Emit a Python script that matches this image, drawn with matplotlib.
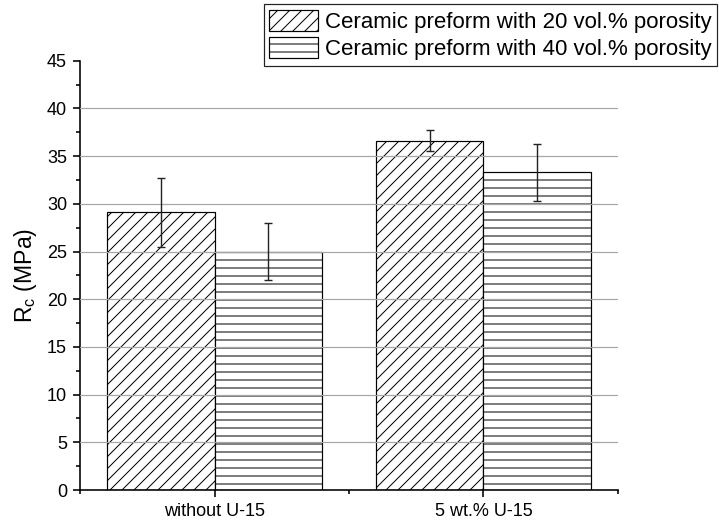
"""Compressive strength of the two ceramic preforms, with and without U-15."""
import matplotlib

matplotlib.use("Agg")
import matplotlib.pyplot as plt
import numpy as np

categories = ["without U-15", "5 wt.% U-15"]
series_labels = [
    "Ceramic preform with 20 vol.% porosity",
    "Ceramic preform with 40 vol.% porosity",
]
rc_20 = [29.1, 36.6]
rc_20_err = [3.6, 1.1]
rc_40 = [25.0, 33.3]
rc_40_err = [3.0, 3.0]

plt.rcParams["font.family"] = ["Liberation Sans", "DejaVu Sans"]
plt.rcParams["hatch.linewidth"] = 0.5
plt.rcParams["hatch.color"] = "black"

DPI = 144
fig = plt.figure(figsize=(719 / DPI, 522 / DPI), dpi=DPI)
ax = fig.add_axes([0.1113, 0.0613, 0.7482, 0.8224])

x = np.arange(len(categories))
width = 0.4
common = dict(width=width, align="edge", facecolor="white", edgecolor="black",
              linewidth=0.6, zorder=1)
ax.bar(x - width, rc_20, hatch="////", label=series_labels[0], **common)
ax.bar(x, rc_40, hatch="---", label=series_labels[1], **common)

err_style = dict(fmt="none", ecolor="#222222", elinewidth=0.7, capsize=2.0,
                 capthick=0.7, zorder=4)
ax.errorbar(x - width / 2, rc_20, yerr=rc_20_err, **err_style)
ax.errorbar(x + width / 2, rc_40, yerr=rc_40_err, **err_style)

ax.set_xlim(-0.5, 1.5)
ax.set_ylim(0, 45)
ax.set_yticks(np.arange(0, 46, 5))
ax.set_yticks(np.arange(2.5, 45, 5), minor=True)
ax.set_xticks(x, categories)
ax.set_xticks([-0.5, 0.5, 1.5], minor=True)

for level in ax.get_yticks()[1:-1]:
    ax.axhline(level, color="#a6a6a6", linewidth=0.6, zorder=3)

ax.spines[["top", "right"]].set_visible(False)
for side in ("left", "bottom"):
    ax.spines[side].set_linewidth(0.8)
ax.tick_params(which="major", direction="out", length=3.5, width=0.8,
               labelsize=9, pad=3)
ax.tick_params(which="minor", direction="out", length=2.0, width=0.8)
ax.set_ylabel("R$_\\mathregular{c}$ (MPa)", fontsize=11.5, labelpad=4)

legend = fig.legend(
    loc="upper right",
    bbox_to_anchor=(717 / 719, 1 - 4 / 522),
    borderaxespad=0,
    fontsize=11.1,
    frameon=True,
    fancybox=False,
    framealpha=1,
    edgecolor="#222222",
    handlelength=2.2,
    handleheight=1.08,
    handletextpad=0.3,
    labelspacing=0.2,
    borderpad=0.25,
)
legend.get_frame().set_linewidth(0.6)

fig.savefig("out.png", dpi=DPI, facecolor="white")
